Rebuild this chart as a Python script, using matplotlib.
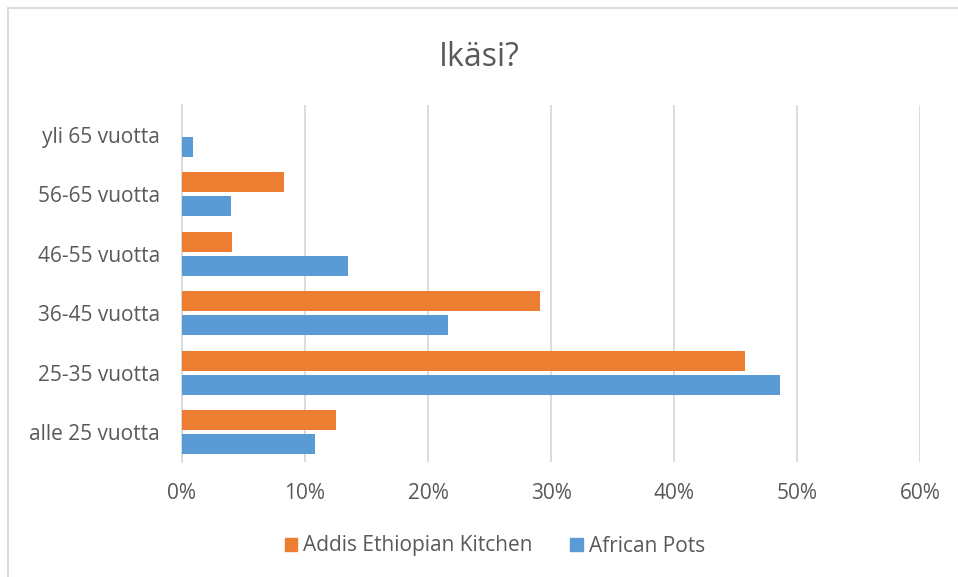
import numpy as np
import matplotlib
matplotlib.use("Agg")
import matplotlib.pyplot as plt
from matplotlib.lines import Line2D

# data
categories = ["alle 25 vuotta", "25-35 vuotta", "36-45 vuotta",
              "46-55 vuotta", "56-65 vuotta", "yli 65 vuotta"]
addis = [12.5, 45.8, 29.1, 4.1, 8.3, 0.0]
african = [10.8, 48.6, 21.6, 13.5, 4.0, 0.9]
series_names = ["Addis Ethiopian Kitchen", "African Pots"]
xticks = [0, 10, 20, 30, 40, 50, 60]

orange = "#ED7D31"
blue = "#5B9BD5"
grid_col = "#D9D9D9"
text_col = "#595959"

plt.rcParams["font.family"] = ["Open Sans", "DejaVu Sans"]

fig = plt.figure(figsize=(9.58, 5.77), dpi=100)
ax = fig.add_axes([182 / 958, 1 - 462 / 577, (920 - 182) / 958, (462 - 105) / 577])

y = np.arange(len(categories))
h = 0.34
off = 0.203
ax.barh(y + off, addis, height=h, color=orange, label=series_names[0], zorder=3)
ax.barh(y - off, african, height=h, color=blue, label=series_names[1], zorder=3)

ax.set_xlim(0, 60)
ax.set_ylim(-0.5, len(categories) - 0.5)
ax.set_xticks(xticks)
ax.set_xticklabels([f"{t}%" for t in xticks])
ax.set_yticks(y)
ax.set_yticklabels(categories)
ax.tick_params(length=0, labelsize=15, colors=text_col)
ax.tick_params(axis="x", pad=15)
ax.tick_params(axis="y", pad=16)
ax.grid(axis="x", color=grid_col, linewidth=1.3, zorder=0)
for s in ["top", "right", "bottom"]:
    ax.spines[s].set_visible(False)
ax.spines["left"].set_color(grid_col)
ax.spines["left"].set_linewidth(1.3)

fig.text(0.5, 1 - 58 / 577, "Ikäsi?", ha="center", va="center",
         fontsize=23, color=text_col)

handles = [plt.Rectangle((0, 0), 1, 1, color=orange),
           plt.Rectangle((0, 0), 1, 1, color=blue)]
fig.legend(handles, series_names, loc="center", bbox_to_anchor=(495 / 958, 1 - 546 / 577),
           ncol=2, frameon=False, fontsize=15, labelcolor=text_col,
           handlelength=0.6, handleheight=0.6, handletextpad=0.3, columnspacing=1.8)

# chart border (only top and left visible in the reference)
fig.add_artist(Line2D([8 / 958, 8 / 958], [0, 1 - 8 / 577], color=grid_col, lw=1.3))
fig.add_artist(Line2D([8 / 958, 1], [1 - 8 / 577, 1 - 8 / 577], color=grid_col, lw=1.3))

fig.savefig("out.png", dpi=100)
